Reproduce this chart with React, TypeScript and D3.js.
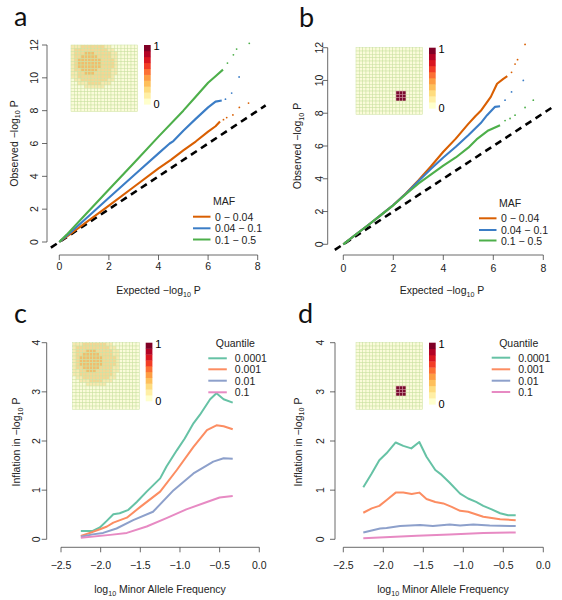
import React from 'react';
import * as d3 from 'd3';

const FONT = "'Liberation Sans', Arial, Helvetica, sans-serif";

// ---------- legends / categories ----------
const MAF_LABELS = ['0 \u2212 0.04', '0.04 \u2212 0.1', '0.1 \u2212 0.5'];
const MAF_COLORS = ['#D95F02', '#3B7DC6', '#4DAF4A'];
const QUANTILE_LABELS = ['0.0001', '0.001', '0.01', '0.1'];
const Q_COLORS = ['#66C2A5', '#FC8D62', '#8DA0CB', '#E78AC3'];

// ---------- ticks ----------
const QQ_X_TICKS = [0, 2, 4, 6, 8];
const QQ_Y_TICKS = [0, 2, 4, 6, 8, 10, 12];
const MAF_X_TICKS = [-2.5, -2, -1.5, -1, -0.5, 0];
const INFL_Y_TICKS = [0, 1, 2, 3, 4];

// ---------- panel a: QQ lines (expected, observed) ----------
const A_LOW = [[0, 0], [0.3, 0.32], [1, 1.1], [2, 2.22], [3, 3.35], [4, 4.48], [4.5, 5.0], [5, 5.58], [5.5, 6.12], [6, 6.72], [6.3, 7.05], [6.48, 7.34]];
const A_LOW_TAIL = [[6.62, 7.45], [6.75, 7.58], [7.0, 7.74], [7.26, 8.2], [7.63, 8.46]];
const A_MID = [[0, 0], [0.3, 0.38], [1, 1.33], [2, 2.7], [3, 4.05], [4, 5.4], [4.45, 6.0], [4.6, 6.15], [5, 6.78], [5.5, 7.5], [6, 8.2], [6.3, 8.55], [6.55, 8.62]];
const A_MID_TAIL = [[6.7, 8.7], [6.95, 9.07], [7.25, 10.05]];
const A_HIGH = [[0, 0], [0.3, 0.45], [1, 1.58], [2, 3.2], [3, 4.8], [4, 6.42], [5, 8.0], [5.5, 8.85], [6, 9.7], [6.3, 10.1], [6.6, 10.5]];
const A_HIGH_TAIL = [[6.78, 10.9], [7.02, 11.4], [7.15, 11.75], [7.66, 12.1]];

// ---------- panel b ----------
const B_LOW = [[0, 0], [0.5, 0.6], [1, 1.18], [1.5, 1.78], [2, 2.4], [2.5, 3.1], [3, 3.9], [3.5, 4.75], [4, 5.65], [4.5, 6.45], [5, 7.35], [5.3, 7.85], [5.5, 8.15], [5.9, 9.0], [6.15, 9.8], [6.4, 10.1], [6.56, 10.26]];
const B_LOW_TAIL = [[6.73, 10.5], [6.87, 11.0], [6.97, 11.27], [7.27, 12.2]];
const B_MID = [[0, 0], [0.5, 0.6], [1, 1.18], [1.5, 1.78], [2, 2.4], [2.5, 3.08], [3, 3.85], [3.5, 4.6], [4, 5.3], [4.5, 5.95], [5, 6.65], [5.5, 7.4], [5.75, 7.88], [6.07, 8.39], [6.27, 8.43]];
const B_MID_TAIL = [[6.47, 8.8], [6.73, 9.3], [7.2, 10.0]];
const B_HIGH = [[0, 0], [0.5, 0.6], [1, 1.18], [1.5, 1.78], [2, 2.38], [2.5, 3.05], [3, 3.7], [3.5, 4.25], [4, 4.8], [4.5, 5.3], [5, 5.9], [5.33, 6.4], [5.8, 6.95], [6.27, 7.27]];
const B_HIGH_TAIL = [[6.47, 7.55], [6.67, 7.68], [6.87, 7.88], [7.27, 8.35], [7.6, 8.8]];

// ---------- panel c: inflation vs log10 MAF ----------
const C_Q0001 = [[-2.25, 0.17], [-2.1, 0.17], [-2.01, 0.24], [-1.92, 0.38], [-1.84, 0.51], [-1.76, 0.53], [-1.65, 0.6], [-1.545, 0.76], [-1.42, 0.97], [-1.25, 1.24], [-1.17, 1.48], [-1.04, 1.81], [-0.94, 2.05], [-0.83, 2.36], [-0.75, 2.53], [-0.62, 2.85], [-0.54, 2.97], [-0.45, 2.85], [-0.335, 2.78]];
const C_Q001 = [[-2.25, 0.07], [-2.1, 0.15], [-2.0, 0.21], [-1.92, 0.26], [-1.84, 0.34], [-1.67, 0.44], [-1.5, 0.66], [-1.25, 0.97], [-1.04, 1.41], [-0.83, 1.88], [-0.66, 2.22], [-0.54, 2.32], [-0.45, 2.3], [-0.335, 2.24]];
const C_Q01 = [[-2.25, 0.05], [-2.1, 0.1], [-1.97, 0.13], [-1.8, 0.22], [-1.59, 0.39], [-1.34, 0.56], [-1.08, 1.0], [-0.83, 1.34], [-0.58, 1.58], [-0.45, 1.65], [-0.335, 1.64]];
const C_Q1 = [[-2.25, 0.03], [-1.88, 0.09], [-1.67, 0.13], [-1.42, 0.26], [-1.17, 0.43], [-0.92, 0.61], [-0.66, 0.76], [-0.5, 0.85], [-0.335, 0.88]];

// ---------- panel d ----------
const D_Q0001 = [[-2.25, 1.06], [-2.145, 1.34], [-2.05, 1.61], [-1.96, 1.75], [-1.845, 1.97], [-1.75, 1.9], [-1.65, 1.85], [-1.55, 1.98], [-1.46, 1.68], [-1.35, 1.41], [-1.27, 1.31], [-1.17, 1.15], [-1.04, 0.93], [-0.94, 0.83], [-0.84, 0.76], [-0.75, 0.68], [-0.645, 0.61], [-0.54, 0.53], [-0.44, 0.49], [-0.345, 0.49]];
const D_Q001 = [[-2.25, 0.54], [-2.145, 0.63], [-2.05, 0.68], [-1.95, 0.81], [-1.845, 0.95], [-1.75, 0.95], [-1.645, 0.92], [-1.55, 0.95], [-1.46, 0.82], [-1.35, 0.76], [-1.25, 0.73], [-1.145, 0.66], [-1.04, 0.58], [-0.94, 0.56], [-0.75, 0.46], [-0.54, 0.41], [-0.345, 0.39]];
const D_Q01 = [[-2.25, 0.14], [-2.04, 0.22], [-1.96, 0.23], [-1.79, 0.27], [-1.54, 0.29], [-1.38, 0.27], [-1.17, 0.3], [-1.04, 0.28], [-0.875, 0.3], [-0.67, 0.28], [-0.345, 0.27]];
const D_Q1 = [[-2.25, 0.02], [-1.58, 0.07], [-1.17, 0.1], [-0.75, 0.13], [-0.345, 0.14]];

// ---------- inset heatmaps (level per cell) ----------
const BLOB_SPREAD = [
  '11122222221100000000',
  '12222222222110000000',
  '12223332222211000000',
  '12233333222211000000',
  '12333333322221000000',
  '12333333322221000000',
  '12333333322221000000',
  '12233333222211000000',
  '11223332222211000000',
  '11222222222210000000',
  '01122222222110000000',
  '00111222211100000000',
  '00001111110000000000',
  '00000000000000000000',
  '00000000000000000000',
  '00000000000000000000',
  '00000000000000000000',
  '00000000000000000000',
  '00000000000000000000',
  '00000000000000000000',
];
const BLOB_LOCAL = [
  '00000000000000000000',
  '00000000000000000000',
  '00000000000000000000',
  '00000000000000000000',
  '00000000000000000000',
  '00000000000000000000',
  '00000000000000000000',
  '00000000000000000000',
  '00000000000000000000',
  '00000000000000000000',
  '00000000000000000000',
  '00000000000000000000',
  '00000000000000000000',
  '00000000000099900000',
  '00000000000099900000',
  '00000000000099900000',
  '00000000000000000000',
  '00000000000000000000',
  '00000000000000000000',
  '00000000000000000000',
];
const LEVEL_FILL: Record<string, string> = {
  '0': '#FBFBDA',
  '1': '#F8E8B0',
  '2': '#F4D693',
  '3': '#F0BD6C',
  '9': '#7A0A2E',
};

type Pt = number[];

function LogTitle({ pre, post, size }: { pre: string; post: string; size: number }) {
  return (
    <>
      {pre}log
      <tspan fontSize={size * 0.68} dy={size * 0.28}>10</tspan>
      <tspan dy={-size * 0.28}>{post}</tspan>
    </>
  );
}

function Inset({ x, y, size, matrix, barX, barY, barH }: { x: number; y: number; size: number; matrix: string[]; barX: number; barY: number; barH: number }) {
  const n = matrix.length;
  const band = d3.scaleBand<number>().domain(d3.range(n)).range([0, size]);
  const levels = d3.range(10);
  const barScale = d3.scaleBand<number>().domain(levels).range([barY + barH, barY]);
  return (
    <g>
      {matrix.map((row, r) =>
        row.split('').map((ch, c) => (
          <rect key={`${r}-${c}`} x={x + (band(c) as number)} y={y + (band(r) as number)} width={band.bandwidth()} height={band.bandwidth()}
            fill={LEVEL_FILL[ch]} stroke={ch === '9' ? '#C98A9A' : '#CBE2A2'} strokeWidth={0.5} />
        ))
      )}
      {levels.map((l) => (
        <rect key={l} x={barX} y={barScale(l) as number} width={6.7} height={barScale.bandwidth() + 0.3} fill={d3.interpolateYlOrRd(l / 9)} />
      ))}
      <text x={barX + 9.5} y={barY + 1} fontSize={11} dominantBaseline="central" fontFamily={FONT}>1</text>
      <text x={barX + 9.5} y={barY + barH} fontSize={11} dominantBaseline="central" fontFamily={FONT}>0</text>
    </g>
  );
}

type AxesProps = {
  xs: d3.ScaleLinear<number, number>;
  ys: d3.ScaleLinear<number, number>;
  xTicks: number[];
  yTicks: number[];
  fmt: (v: number) => string;
  axisY: number;
  axisX: number;
  xLabBase: number;
  yLabBase: number;
};

function Axes({ xs, ys, xTicks, yTicks, fmt, axisY, axisX, xLabBase, yLabBase }: AxesProps) {
  const x0 = xs(xTicks[0]);
  const x1 = xs(xTicks[xTicks.length - 1]);
  const y0 = ys(yTicks[0]);
  const y1 = ys(yTicks[yTicks.length - 1]);
  return (
    <g fontFamily={FONT} fontSize={10.5} fill="#222">
      <line x1={x0} x2={x1} y1={axisY} y2={axisY} stroke="#444" strokeWidth={0.8} />
      {xTicks.map((t) => (
        <g key={t}>
          <line x1={xs(t)} x2={xs(t)} y1={axisY} y2={axisY + 5} stroke="#444" strokeWidth={0.8} />
          <text x={xs(t)} y={xLabBase} textAnchor="middle">{fmt(t)}</text>
        </g>
      ))}
      <line x1={axisX} x2={axisX} y1={y0} y2={y1} stroke="#444" strokeWidth={0.8} />
      {yTicks.map((t) => (
        <g key={t}>
          <line x1={axisX} x2={axisX - 5} y1={ys(t)} y2={ys(t)} stroke="#444" strokeWidth={0.8} />
          <text transform={`translate(${yLabBase},${ys(t)}) rotate(-90)`} textAnchor="middle">{t}</text>
        </g>
      ))}
    </g>
  );
}

function QQPanel({ xs, ys, lines, tails, axisX, axisY, xLabBase, yLabBase, yTitleBase, xTitleX, legX, legTitleY, legY }: any) {
  const line = d3.line<Pt>().x((d) => xs(d[0])).y((d) => ys(d[1]));
  const fmt = (v: number) => String(v);
  return (
    <g>
      <Axes xs={xs} ys={ys} xTicks={QQ_X_TICKS} yTicks={QQ_Y_TICKS} fmt={fmt} axisX={axisX} axisY={axisY} xLabBase={xLabBase} yLabBase={yLabBase} />
      <line x1={xs(-0.34)} y1={ys(-0.34)} x2={xs(8.32)} y2={ys(8.32)} stroke="#000" strokeWidth={2.6} strokeDasharray="7,5" />
      {lines.map((pts: Pt[], i: number) => (
        <path key={i} d={line(pts) as string} fill="none" stroke={MAF_COLORS[i]} strokeWidth={2.1} strokeLinejoin="round" />
      ))}
      {tails.map((pts: Pt[], i: number) =>
        pts.map((p, j) => <circle key={`${i}-${j}`} cx={xs(p[0])} cy={ys(p[1])} r={0.9} fill={MAF_COLORS[i]} />)
      )}
      <text x={xTitleX} y={294} textAnchor="middle" fontFamily={FONT} fontSize={10.5} fill="#222">
        <LogTitle pre={'Expected \u2212'} post=" P" size={10.5} />
      </text>
      <text transform={`translate(${yTitleBase},${(ys(0) + ys(12)) / 2}) rotate(-90)`} textAnchor="middle" fontFamily={FONT} fontSize={10.5} fill="#222">
        <LogTitle pre={'Observed \u2212'} post=" P" size={10.5} />
      </text>
      <g fontFamily={FONT} fontSize={10.5} fill="#222">
        <text x={legX + 20} y={legTitleY} dominantBaseline="central">MAF</text>
        {MAF_LABELS.map((lab, i) => (
          <g key={lab}>
            <line x1={legX} x2={legX + 17.5} y1={legY[i]} y2={legY[i]} stroke={MAF_COLORS[i]} strokeWidth={2} />
            <text x={legX + 22} y={legY[i]} dominantBaseline="central">{lab}</text>
          </g>
        ))}
      </g>
    </g>
  );
}

function InflPanel({ xs, ys, lines, axisX, axisY, yLabBase, yTitleBase, xTitleX, legX, legY }: any) {
  const line = d3.line<Pt>().x((d) => xs(d[0])).y((d) => ys(d[1]));
  const fmt = d3.format('.1f');
  return (
    <g>
      <Axes xs={xs} ys={ys} xTicks={MAF_X_TICKS} yTicks={INFL_Y_TICKS} fmt={fmt} axisX={axisX} axisY={axisY} xLabBase={568.5} yLabBase={yLabBase} />
      {lines.map((pts: Pt[], i: number) => (
        <path key={i} d={line(pts) as string} fill="none" stroke={Q_COLORS[i]} strokeWidth={2} strokeLinejoin="round" />
      ))}
      <text x={xTitleX} y={593} textAnchor="middle" fontFamily={FONT} fontSize={10.5} fill="#222">
        <LogTitle pre="" post=" Minor Allele Frequency" size={10.5} />
      </text>
      <text transform={`translate(${yTitleBase},${(ys(0) + ys(4)) / 2 + 1}) rotate(-90)`} textAnchor="middle" fontFamily={FONT} fontSize={10.5} fill="#222">
        <LogTitle pre={'Inflation in \u2212'} post=" P" size={10.5} />
      </text>
      <g fontFamily={FONT} fontSize={10.5} fill="#222">
        <text x={legX + 27} y={343.3} textAnchor="middle" dominantBaseline="central">Quantile</text>
        {QUANTILE_LABELS.map((lab, i) => (
          <g key={lab}>
            <line x1={legX} x2={legX + 18.5} y1={legY[i]} y2={legY[i]} stroke={Q_COLORS[i]} strokeWidth={2} />
            <text x={legX + 26.5} y={legY[i]} dominantBaseline="central">{lab}</text>
          </g>
        ))}
      </g>
    </g>
  );
}

export default function App() {
  const xsA = d3.scaleLinear().domain([0, 8]).range([59.3, 257.7]);
  const ysA = d3.scaleLinear().domain([0, 12]).range([242, 45]);
  const xsB = d3.scaleLinear().domain([0, 8]).range([343.3, 543.3]);
  const ysB = d3.scaleLinear().domain([0, 12]).range([244.3, 47.7]);
  const xsC = d3.scaleLinear().domain([-2.5, 0]).range([61, 259.3]);
  const ysC = d3.scaleLinear().domain([0, 4]).range([539.3, 342.7]);
  const xsD = d3.scaleLinear().domain([-2.5, 0]).range([343.3, 543.3]);
  const ysD = d3.scaleLinear().domain([0, 4]).range([539.3, 342.7]);

  const letter = { fontFamily: "Lato, 'Open Sans', sans-serif", fontSize: 27, fill: '#111' } as const;

  return (
    <svg width={562} height={600} style={{ position: 'absolute', left: 0, top: 0, background: '#fff' }}>
      <rect width={562} height={600} fill="#fff" />
      <text x={14} y={26} {...letter}>a</text>
      <text x={299} y={26.5} {...letter}>b</text>
      <text x={14} y={323} {...letter}>c</text>
      <text x={298} y={323} {...letter}>d</text>

      <QQPanel xs={xsA} ys={ysA} lines={[A_LOW, A_MID, A_HIGH]} tails={[A_LOW_TAIL, A_MID_TAIL, A_HIGH_TAIL]}
        axisX={47} axisY={255} xLabBase={270} yLabBase={37.5} yTitleBase={17.5} xTitleX={158.5}
        legX={193} legTitleY={201} legY={[216.7, 228.3, 239.5]} />
      <Inset x={71} y={45} size={66.7} matrix={BLOB_SPREAD} barX={144} barY={45} barH={59.3} />

      <QQPanel xs={xsB} ys={ysB} lines={[B_LOW, B_MID, B_HIGH]} tails={[B_LOW_TAIL, B_MID_TAIL, B_HIGH_TAIL]}
        axisX={327.7} axisY={255} xLabBase={271.5} yLabBase={323} yTitleBase={301} xTitleX={442}
        legX={479} legTitleY={203.3} legY={[218.3, 230, 240.5]} />
      <Inset x={356} y={47.7} size={66.7} matrix={BLOB_LOCAL} barX={429} barY={47.7} barH={60.6} />

      <InflPanel xs={xsC} ys={ysC} lines={[C_Q0001, C_Q001, C_Q01, C_Q1]} axisX={46.7} axisY={547.3}
        yLabBase={39.5} yTitleBase={20} xTitleX={160} legX={208.3} legY={[358.3, 369.3, 380.7, 392.3]} />
      <Inset x={72.7} y={342.7} size={66.7} matrix={BLOB_SPREAD} barX={145.7} barY={342.7} barH={58.3} />

      <InflPanel xs={xsD} ys={ysD} lines={[D_Q0001, D_Q001, D_Q01, D_Q1]} axisX={335} axisY={547.3}
        yLabBase={323.5} yTitleBase={301.5} xTitleX={443} legX={491.7} legY={[357.7, 369.3, 380.7, 392]} />
      <Inset x={356} y={342.7} size={66.7} matrix={BLOB_LOCAL} barX={429} barY={342.7} barH={61.6} />
    </svg>
  );
}
